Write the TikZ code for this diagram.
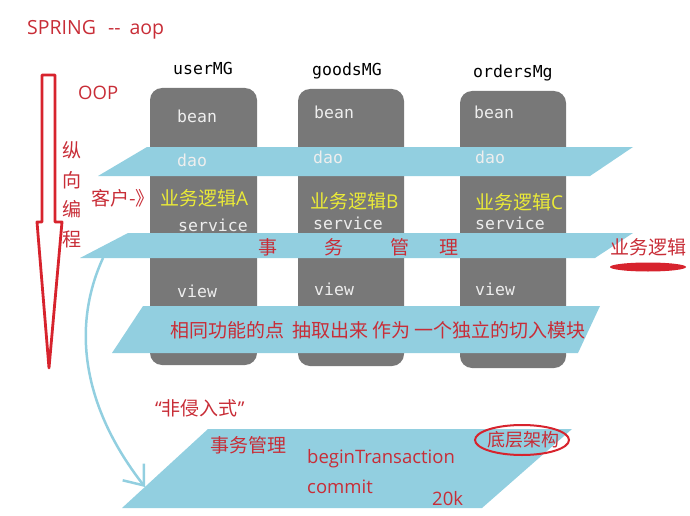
\documentclass[tikz,border=0pt]{standalone}
\usepackage{fontspec}
\setmainfont{Open Sans}
\setmonofont{DejaVu Sans Mono}
\newfontfamily\cjk{Noto Sans CJK SC}
\usetikzlibrary{arrows.meta}

\definecolor{aopred}{RGB}{200,45,55}
\definecolor{arrowred}{RGB}{215,35,45}
\definecolor{layerblue}{RGB}{146,207,224}
\definecolor{modgray}{RGB}{120,120,120}
\definecolor{logicyellow}{RGB}{235,235,55}
\definecolor{codewhite}{RGB}{238,238,238}

\tikzset{
    modname/.style={inner sep=0, anchor=base west, font=\ttfamily\fontsize{16.5}{18}\selectfont},
    layername/.style={modname, text=codewhite},
    redtext/.style={inner sep=0, anchor=base west, text=aopred, font=\fontsize{18.5}{22}\selectfont},
    cjktext/.style={inner sep=0, anchor=west, text=aopred, font=\cjk\fontsize{19}{22}\selectfont},
    logictext/.style={cjktext, text=logicyellow},
    module/.style={fill=modgray, rounded corners=12pt},
    layer/.style={fill=layerblue}
}

\begin{document}
\begin{tikzpicture}[x=1pt,y=-1pt]
    \useasboundingbox (0,0) rectangle (690,516);

% title
    \node[redtext, font=\fontsize{19.5}{22}\selectfont] (title) at (27,35)
        {SPRING\hspace{12pt}{-}{-}\hspace{9pt}aop};

% modules
    \path[module] (150,88) rectangle (257,365);
    \path[module] (298,89) rectangle (404,366);
    \path[module] (460,91) rectangle (566,368);
% module names
    \path   (173,75) node[modname] (userMG) {userMG}
            (312,76) node[modname] (goodsMG) {goodsMG}
            (473,78) node[modname] (ordersMg) {ordersMg};

% cross-cutting layers
    \path[layer] (98,176) -- (147,147) -- (633,147) -- (590,176) -- cycle;
    \path[layer] (80,258) -- (128,233) -- (633,233) -- (595,258) -- cycle;
    \path[layer] (112,353) -- (143,306) -- (600,306) -- (578,353) -- cycle;
    \path[layer] (122,508) -- (208,429) -- (572,429) -- (482,508) -- cycle;

% layer labels
    \path   (177,123) node[layername] (beanA) {bean}
            (314,119) node[layername] (beanB) {bean}
            (474,119) node[layername] (beanC) {bean};
    \path   (177,166) node[layername] (daoA) {dao}
            (313,163) node[layername] (daoB) {dao}
            (475,163) node[layername] (daoC) {dao};
    \path   (178,231) node[layername] (serviceA) {service}
            (313,229) node[layername] (serviceB) {service}
            (475,229) node[layername] (serviceC) {service};
    \path   (177,297) node[layername] (viewA) {view}
            (314,295) node[layername] (viewB) {view}
            (475,295) node[layername] (viewC) {view};

% business logic
    \path   (160,198) node[logictext] (logicA) {业务逻辑{\rmfamily A}}
            (310,201) node[logictext] (logicB) {业务逻辑{\rmfamily B}}
            (475,202) node[logictext] (logicC) {业务逻辑{\rmfamily C}};
    \node[cjktext] (client) at (91,198) {客户-》};

% transaction layer
    \foreach \c/\x [count=\i] in {事/268,务/334,管/400,理/449}
        \node[cjktext, anchor=center] (tx\i) at (\x,247) {\c};
    \node[cjktext] (logic) at (610,247) {业务逻辑};
    \fill[arrowred] (648,267) ellipse [x radius=38pt, y radius=4.5pt];

% aspect layer
    \node[cjktext] (aspect) at (170,330) {相同功能的点\hspace{8pt}抽取出来 作为 一个独立的切入模块};

% vertical programming
    \draw[arrowred, line width=2.8pt, line join=round] (42,75) -- (55,75) -- (55,222) -- (62,222)
        -- (49,368) -- (37,222) -- (42,222) -- cycle;
    \node[redtext] (oop) at (78,100) {OOP};
    \node[cjktext, anchor=center, align=center, font=\cjk\fontsize{19}{29.5}\selectfont]
        (vertical) at (72,195) {纵\\向\\编\\程};

% non-invasive
    \coordinate (arcfrom) at (103,258);
    \coordinate (arcto) at (145,487);
    \draw[layerblue, line width=2.5pt, -{Straight Barb[length=17pt, width=27pt]}]
        (arcfrom) .. controls (70,330) and (85,410) .. (arcto);
    \node[cjktext] (noninvasive) at (155,408) {{\rmfamily “}非侵入式{\rmfamily ”}};

% underlying framework
    \node[cjktext] (txmgr) at (210,445) {事务管理};
    \node[redtext] (begin) at (307,463) {beginTransaction};
    \node[redtext] (commit) at (307,493) {commit};
    \node[redtext] (size) at (432,505) {20k};
    \node[cjktext, font=\cjk\fontsize{18}{22}\selectfont] (base) at (487,440) {底层架构};
    \draw[arrowred, line width=2pt] (522,440) ellipse [x radius=47pt, y radius=15pt];

\end{tikzpicture}
\end{document}
